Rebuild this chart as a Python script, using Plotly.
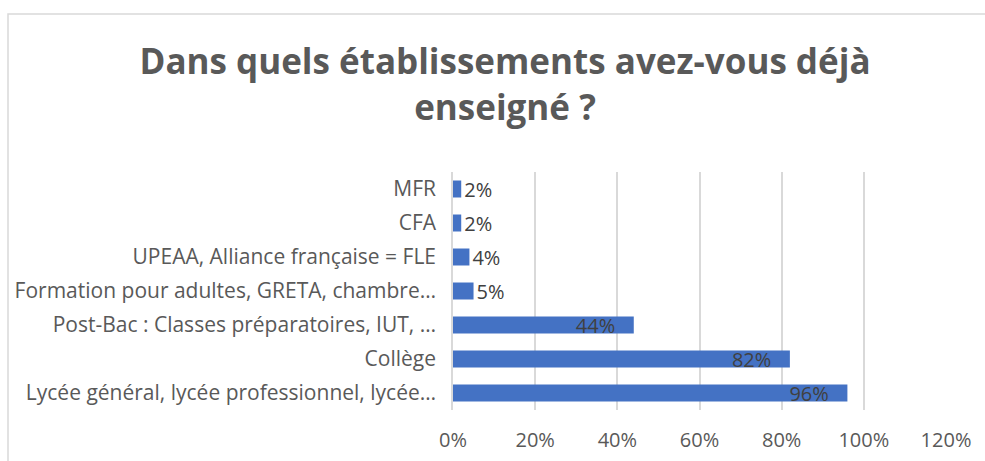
import plotly.graph_objects as go

categories = [
    "Lycée général, lycée professionnel, lycée…",
    "Collège",
    "Post-Bac : Classes préparatoires, IUT, …",
    "Formation pour adultes, GRETA, chambre…",
    "UPEAA, Alliance française = FLE",
    "CFA",
    "MFR",
]
values = [0.96, 0.82, 0.44, 0.05, 0.04, 0.02, 0.02]
labels = ["96%", "82%", "44%", "5%", "4%", "2%", "2%"]
x_ticks = [0, 0.2, 0.4, 0.6, 0.8, 1.0, 1.2]
x_tick_labels = ["0%", "20%", "40%", "60%", "80%", "100%", "120%"]

positions = ["inside" if v > 0.2 else "outside" for v in values]
texts = [l + "\u00a0\u00a0\u00a0" if v > 0.2 else l for l, v in zip(labels, values)]

W, H = 985, 461
ml, mr, mt, mb = 453, 39, 172, 51

fig = go.Figure(go.Bar(
    y=categories, x=values, orientation="h",
    marker=dict(color="#4472C4", line=dict(width=0)),
    width=0.5,
    text=texts, textposition=positions,
    insidetextanchor="end",
    constraintext="none",
    textfont=dict(family="Open Sans", size=20, color="#404040"),
    cliponaxis=False,
))

pw = W - ml - mr
ph = H - mt - mb
def px_x(p):
    return (p - ml) / pw
def px_y(p):
    return (H - mb - p) / ph

fig.add_shape(type="rect", xref="paper", yref="paper",
              x0=px_x(8), x1=px_x(1000), y0=px_y(480), y1=px_y(14),
              line=dict(color="#D9D9D9", width=1.5), fillcolor="rgba(0,0,0,0)", layer="below")

fig.update_layout(
    width=W, height=H,
    margin=dict(l=ml, r=mr, t=mt, b=mb, autoexpand=False),
    paper_bgcolor="white", plot_bgcolor="white",
    title=dict(text="Dans quels établissements avez-vous déjà<br>enseigné ?",
               x=505 / W, xanchor="center", y=1 - 74 / H, yanchor="middle",
               font=dict(family="Open Sans", size=35, color="#595959", weight="bold")),
    xaxis=dict(range=[0, 1.2], tickvals=x_ticks, ticktext=x_tick_labels,
               showgrid=True, gridcolor="#D9D9D9", gridwidth=1.5,
               zeroline=False, showline=False, ticks="",
               tickfont=dict(family="Open Sans", size=20, color="#595959"),
               ticklabelstandoff=16, automargin=False),
    yaxis=dict(showgrid=False, zeroline=False, showline=True, linecolor="#D9D9D9", linewidth=1.5,
               ticks="", ticklabelstandoff=11, automargin=False,
               tickfont=dict(family="Open Sans", size=21, color="#595959")),
    showlegend=False,
)

fig.write_html("out.html", config={"displayModeBar": False},
               post_script="document.body.style.margin='0';document.body.style.overflow='hidden';")
